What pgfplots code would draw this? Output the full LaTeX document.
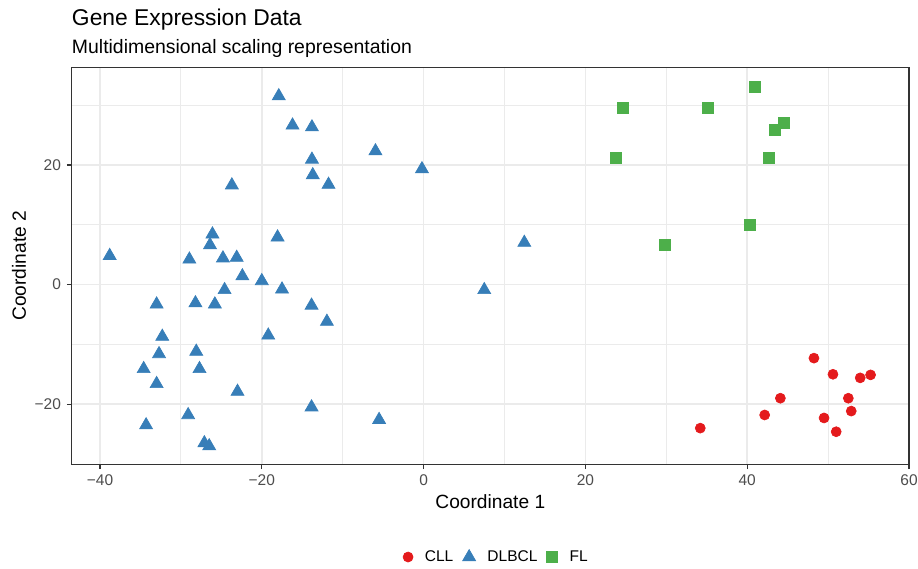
\documentclass[border=0pt]{standalone}
\usepackage{pgfplots}
\pgfplotsset{compat=1.18}
\usepackage{fontspec}
\setmainfont{Liberation Sans}
\definecolor{cll}{HTML}{E41A1C}
\definecolor{dlbcl}{HTML}{377EB8}
\definecolor{fl}{HTML}{4DAF4A}
\definecolor{gridc}{HTML}{EBEBEB}
\definecolor{framec}{HTML}{333333}
\definecolor{ticktext}{HTML}{4D4D4D}

\begin{document}
\begin{tikzpicture}
\useasboundingbox (-43.0bp,-62.2bp) rectangle (507.8bp,278.6bp);
\begin{axis}[
	at={(0,0)}, anchor=south west,
	width=502.4bp, height=238.2bp, scale only axis,
	xmin=-43.5, xmax=60.0, ymin=-30.05, ymax=36.3,
	xtick={-40,-20,0,20,40,60},
	xticklabels={−40,−20,0,20,40,60},
	ytick={-20,0,20},
	yticklabels={−20,0,20},
	minor xtick={-30,-10,10,30,50},
	minor ytick={-30,-10,10,30},
	grid=both,
	major grid style={gridc, line width=1bp},
	minor grid style={gridc, line width=0.55bp},
	axis line style={framec, line width=0.8bp},
	tick align=outside,
	xtick pos=bottom, ytick pos=left,
	major tick length=2.9bp,
	minor tick length=0pt,
	tick style={framec, line width=0.8bp},
	ticklabel style={font=\fontsize{9.3bp}{11bp}\selectfont, text=ticktext},
	xlabel={Coordinate 1},
	ylabel={Coordinate 2},
	xlabel style={at={(axis description cs:0.5,-0.095)}, anchor=center, font=\fontsize{11.5bp}{13bp}\selectfont},
	ylabel style={at={(axis description cs:-0.063,0.5)}, anchor=center, font=\fontsize{11.5bp}{13bp}\selectfont},
	legend columns=3,
	legend cell align=left,
	legend style={at={(0.508,-0.2335)}, anchor=center, draw=none, fill=none,
		font=\fontsize{9.3bp}{11bp}\selectfont,
		/tikz/every even column/.append style={column sep=3.6bp},
		/tikz/every odd column/.append style={column sep=5.1bp}},
	]
\addplot[only marks, mark=*, mark size=3bp, color=cll, mark options={draw=cll, fill=cll}]
coordinates {
(48.25,-12.3) (50.6,-15.0) (53.97,-15.6) (55.25,-15.1) (44.1,-19.0) (52.5,-19.0)
(42.16,-21.8) (52.86,-21.15) (49.5,-22.3) (51.0,-24.6) (34.2,-24.0)
};
\addlegendentry{CLL}

\addplot[only marks, mark=triangle*, mark size=4.5bp, color=dlbcl, mark options={draw=dlbcl, fill=dlbcl}]
coordinates {
(-17.9,31.5) (-16.2,26.6) (-13.8,26.3) (-5.95,22.3) (-13.8,20.9) (-13.7,18.3)
(-11.75,16.7) (-23.7,16.6) (-26.1,8.4) (-26.4,6.6) (-18.05,7.9) (-38.8,4.8)
(-28.95,4.2) (-24.8,4.4) (-23.1,4.5) (-22.4,1.4) (-20.0,0.6) (-24.6,-0.9)
(-17.5,-0.8) (-33.0,-3.3) (-28.2,-3.1) (-25.8,-3.3) (-13.85,-3.5) (-11.95,-6.2)
(-32.3,-8.7) (-19.2,-8.5) (-32.7,-11.6) (-28.1,-11.2) (-34.6,-14.1) (-27.7,-14.1)
(-33.0,-16.6) (-23.0,-17.9) (-13.85,-20.5) (-29.1,-21.8) (-34.3,-23.5) (-27.1,-26.5)
(-26.5,-27.0) (-5.5,-22.6) (-0.2,19.3) (12.45,7.0) (7.5,-0.9)
};
\addlegendentry{DLBCL}

\addplot[only marks, mark=square*, mark size=3.3bp, color=fl, mark options={draw=fl, fill=fl}]
coordinates {
(40.96,33.1) (24.63,29.5) (35.16,29.6) (44.5,27.0) (43.4,25.8)
(23.77,21.1) (42.7,21.1) (40.35,9.9) (29.85,6.6)
};
\addlegendentry{FL}
\end{axis}
\node[anchor=base west, inner sep=0, font=\fontsize{13.7bp}{16bp}\selectfont] at (0,263bp) {Gene Expression Data};
\node[anchor=base west, inner sep=0, font=\fontsize{11.65bp}{13bp}\selectfont] at (0,246.6bp) {Multidimensional scaling representation};
\end{tikzpicture}
\end{document}
